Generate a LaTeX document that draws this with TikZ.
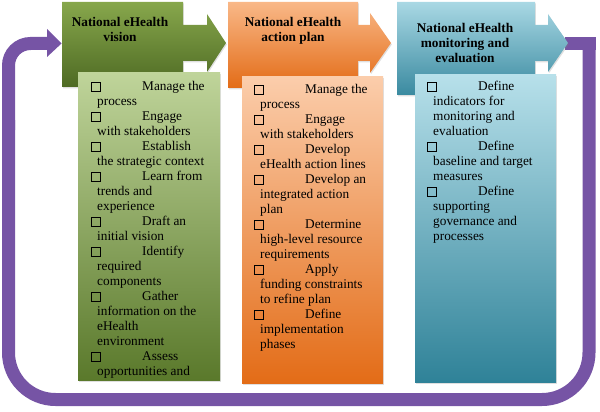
\documentclass[tikz,border=0pt]{standalone}
\usepackage{fontspec}
\setmainfont{Liberation Serif}
\usetikzlibrary{shadows}
\definecolor{purp}{HTML}{7654A5}
\definecolor{gA}{HTML}{87A74C}
\definecolor{gB}{HTML}{4E6A23}
\definecolor{gC}{HTML}{BFD49A}
\definecolor{gD}{HTML}{5A792B}
\definecolor{oA}{HTML}{F9B888}
\definecolor{oB}{HTML}{E36C17}
\definecolor{oC}{HTML}{FBCDAB}
\definecolor{oD}{HTML}{E36C17}
\definecolor{bA}{HTML}{A9D8E4}
\definecolor{bB}{HTML}{3A8AA0}
\definecolor{bC}{HTML}{B7E0EA}
\definecolor{bD}{HTML}{2F8298}
\newcommand{\chk}{{\setlength{\fboxsep}{0pt}\setlength{\fboxrule}{0.6pt}\fbox{\rule{0pt}{8.5pt}\rule{8.5pt}{0pt}}}}
\newcommand{\itm}[1]{\hspace*{-6pt}\makebox[51pt][l]{\chk}#1}
\newcommand{\headtxt}[1]{\fontsize{13.3}{15}\selectfont\bfseries\begin{tabular}[t]{@{}c@{}}#1\end{tabular}}
\begin{document}
\begin{tikzpicture}[x=1pt,y=-1pt,
  band/.style={draw=purp,line width=13pt},
  shd/.style={drop shadow={opacity=0.25,shadow xshift=0.8pt,shadow yshift=-1.5pt}},
  lbl/.style={inner sep=0pt,anchor=base},
  body/.style={inner sep=0pt,anchor=base west}]
\useasboundingbox (0,0) rectangle (600,412);
% purple loop
\fill[purp] (565,37.5) rectangle (595.5,50.5);
\draw[band,rounded corners=47pt] (589,44) -- (589,399.5) -- (8.5,399.5) -- (8.5,120);
\draw[band,rounded corners=22pt] (8.5,130) -- (8.5,43.5) -- (48,43.5);
\fill[purp] (47,29) -- (61.5,43.5) -- (47,57) -- cycle;
% header arrows
\path[shd,top color=gA,bottom color=gB] (62,2) -- (183,2) -- (183,25) -- (207,25) -- (207,14) -- (226,43) -- (207,72) -- (207,61) -- (183,61) -- (183,87) -- (62,87) -- cycle;
\path[shd,top color=oA,bottom color=oB] (228,2) -- (358,2) -- (358,25) -- (370,25) -- (370,13) -- (391,43) -- (370,73) -- (370,61) -- (358,61) -- (358,88) -- (228,88) -- cycle;
\path[shd,top color=bA,bottom color=bB] (397,2) -- (535,2) -- (535,25) -- (548,25) -- (548,14) -- (568,43) -- (548,72) -- (548,61) -- (535,61) -- (535,95) -- (397,95) -- cycle;
\node[lbl] (h1) at (120,26.5) {\headtxt{National eHealth\\ vision}};
\node[lbl] (h2) at (293,26.5) {\headtxt{National eHealth\\ action plan}};
\node[lbl] (h3) at (465,33) {\headtxt{National eHealth\\ monitoring and\\ evaluation}};
% sub boxes
\path[shd,top color=gC,bottom color=gD] (78,73) rectangle (220,380);
\path[shd,top color=oC,bottom color=oD] (242,77) rectangle (383,383);
\path[shd,top color=bC,bottom color=bD] (415,75) rectangle (556,382);
\begin{scope}
\clip (78,73) rectangle (220,380);
\node[body] (t1) at (97,91) {\begin{minipage}[t]{130pt}\raggedright\fontsize{13.3}{15}\selectfont
\itm{Manage the}\\ process\\ \itm{Engage}\\ with stakeholders\\ \itm{Establish}\\ the strategic context\\ \itm{Learn from}\\ trends and\\ experience\\ \itm{Draft an}\\ initial vision\\ \itm{Identify}\\ required\\ components\\ \itm{Gather}\\ information on the\\ eHealth\\ environment\\ \itm{Assess}\\ opportunities and
\end{minipage}};
\end{scope}
\node[body] (t2) at (260,94) {\begin{minipage}[t]{130pt}\raggedright\fontsize{13.3}{15}\selectfont
\itm{Manage the}\\ process\\ \itm{Engage}\\ with stakeholders\\ \itm{Develop}\\ eHealth action lines\\ \itm{Develop an}\\ integrated action\\ plan\\ \itm{Determine}\\ high-level resource\\ requirements\\ \itm{Apply}\\ funding constraints\\ to refine plan\\ \itm{Define}\\ implementation\\ phases
\end{minipage}};
\node[body] (t3) at (433,91) {\begin{minipage}[t]{130pt}\raggedright\fontsize{13.3}{15}\selectfont
\itm{Define}\\ indicators for\\ monitoring and\\ evaluation\\ \itm{Define}\\ baseline and target\\ measures\\ \itm{Define}\\ supporting\\ governance and\\ processes
\end{minipage}};
\end{tikzpicture}
\end{document}
